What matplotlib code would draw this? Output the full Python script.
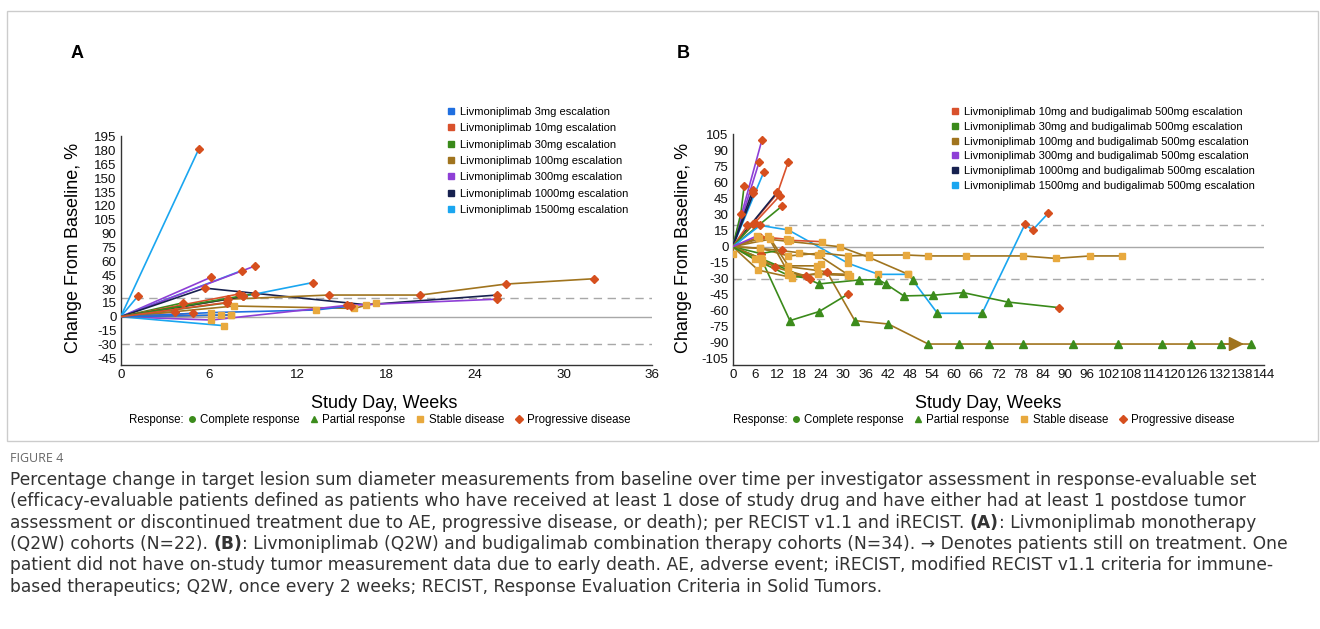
import matplotlib
matplotlib.use('Agg')
import matplotlib.pyplot as plt
from matplotlib.lines import Line2D
from matplotlib.patches import Rectangle

plt.rcParams['font.family'] = ['Liberation Sans', 'DejaVu Sans']
plt.rcParams['axes.unicode_minus'] = False

W, H = 1320, 629

# cohort colours
cohort_colors = {
    '3': '#1f6fe0', '10': '#d9512c', '30': '#3a8a1a', '100': '#a0741e',
    '300': '#8e3fd6', '1000': '#17214f', '1500': '#1aa6f0',
}
# response markers: P progressive, S stable, R partial, C complete
resp_marker = {'P': 'D', 'S': 's', 'R': '^', 'C': 'o'}
resp_color = {'P': '#d64f1e', 'S': '#e8a93e', 'R': '#3c8c1c', 'C': '#3c8c1c'}

# ---- panel A data (monotherapy) ----
a_cohort = ['1500', '1500', '300', '1500', '300', '1000', '1500', '100', '30', '30', '10',
            '10', '100', '3', '300', '1500', '100', '10', '1000', '30', '3', '10']
a_weeks = [[0, 5.3], [0, 1.2], [0, 6.15], [0, 8.2], [0, 9.1], [0, 5.7, 16.6, 25.5],
           [0, 8.3, 13.0], [0, 7.3, 14.1, 20.3, 26.1, 32.1], [0, 4.2], [0, 7.2], [0, 3.7],
           [0, 4.9], [0, 7.7, 15.8, 17.3], [0, 6.15, 13.2, 15.6], [0, 6.15, 15.3, 25.5],
           [0, 7.0], [0, 6.8, 7.5], [0, 8.0], [0, 8.3], [0, 9.1], [0, 7.5], [0, 7.2]]
a_values = [[0, 182], [0, 23], [0, 43], [0, 50], [0, 55], [0, 31, 13, 23.5],
            [0, 22, 37], [0, 19, 23.5, 23.5, 35.4, 41.2], [0, 15], [0, 15], [0, 5.4],
            [0, 3.6], [0, 11.6, 9, 15], [0, 4.5, 7.3, 11.6], [0, -3.6, 12.3, 19],
            [0, -9.7], [0, 1.6, 1.6], [0, 24.6], [0, 22], [0, 25], [0, 2], [0, 15.5]]
a_resp = ['P', 'P', 'P', 'P', 'P', 'PSP', 'PP', 'PPPPP', 'P', 'P', 'P',
          'P', 'SSS', 'SSP', 'SPP', 'S', 'SS', 'P', 'P', 'P', 'S', 'P']

# ---- panel B data (combination) ----
b_cohort = ['300', '300', '1500', '30', '1000', '1000', '10', '1000', '10', '30', '10', '30',
            '1500', '10', '100', '100', '30', '30', '100', '100', '30', '100', '100', '100',
            '100', '30', '100', '300']
b_weeks = [[0, 7.9], [0, 7.2], [0, 8.4], [0, 2.2, 3.1], [0, 5.4], [0, 5.6], [0, 12.1, 15.1],
           [0, 12.0], [0, 12.8], [0, 13.3], [0, 4, 6], [0, 5.5],
           [0, 7.4, 15.1, 31.3, 39.5, 47.6, 55.5, 67.6, 79.2, 81.3, 85.5],
           [0, 7.4, 14.6, 15.5, 24.3],
           [0, 7.4, 15.1, 24, 31.3, 36.9, 46.9, 53, 63.3, 78.8, 87.5, 96.9, 105.5],
           [0, 7.9, 25.5, 33.1, 42.2, 53, 61.2, 69.5, 78.8, 92.3, 104.5, 116.3, 124.2, 132.3, 140.4],
           [0, 7.9, 15.5, 23.4, 31.3],
           [0, 7.6, 15, 23.4, 34.2, 39.5, 41.5, 46.4, 54.4, 62.5, 74.5, 88.5],
           [0, 7, 15, 29, 36.9, 47.6, 49], [0, 0.2], [0, 7.6, 13.3], [0, 7.6, 11.5, 19.9],
           [0, 6.9, 16, 23.2, 31.3], [0, 9.7, 15.1, 22.8, 24], [0, 7.4, 18, 23.2, 31.9],
           [0, 6, 15.1, 21], [0, 10, 15.5, 23.2, 31.3], [0, 6.5]]
b_values = [[0, 100], [0, 80], [0, 70], [0, 31, 57], [0, 53], [0, 50], [0, 50, 80],
            [0, 51], [0, 48], [0, 38], [0, 20, 22], [0, 21],
            [0, 20, 15.7, -15.6, -26, -26, -62.6, -62.6, 21, 15.7, 31.4],
            [0, 9.4, 7, 6, 4.7],
            [0, -1.5, -8.7, -6, -8.7, -8, -7.8, -8.7, -8.7, -8.7, -11, -8.7, -8.7],
            [0, -15.6, -23.5, -69.5, -72.7, -91.5, -91.5, -91.5, -91.5, -91.5, -91.5, -91.5, -91.5,
             -91.5, -91.5],
            [0, -12.5, -69.5, -61, -44.5],
            [0, -11, -22, -35, -31.3, -31, -35, -46.3, -45.6, -43.2, -52, -57.3],
            [0, 8, 5, 0, -10, -26, -31], [0, -7], [0, -6.5, -3], [0, -11, -19.4, -27.5],
            [0, -22, -29, -25, -26], [0, 10, -18, -18, -16], [0, -1.5, -5.6, -8, -27.8],
            [0, -12, -27, -30], [0, 7, -27, -26, -27], [0, 10]]
b_resp = ['P', 'P', 'P', 'PP', 'P', 'P', 'PP', 'P', 'P', 'P', 'PP', 'P',
          'PSSSSRRPPP', 'PSSS', 'SSSSSSSSSSSS', 'SPRRRRRRRRRRRR', 'SRRP', 'SSRRRRRRRRP',
          'SSSSSR', 'S', 'PP', 'SPP', 'SSSS', 'SSSS', 'SSSS', 'SSP', 'SSSS', 'S']
b_arrow = (132.3, 139.3, -91.5)

a_legend = ['Livmoniplimab 3mg escalation', 'Livmoniplimab 10mg escalation',
            'Livmoniplimab 30mg escalation', 'Livmoniplimab 100mg escalation',
            'Livmoniplimab 300mg escalation', 'Livmoniplimab 1000mg escalation',
            'Livmoniplimab 1500mg escalation']
a_legend_keys = ['3', '10', '30', '100', '300', '1000', '1500']
b_legend = ['Livmoniplimab 10mg and budigalimab 500mg escalation',
            'Livmoniplimab 30mg and budigalimab 500mg escalation',
            'Livmoniplimab 100mg and budigalimab 500mg escalation',
            'Livmoniplimab 300mg and budigalimab 500mg escalation',
            'Livmoniplimab 1000mg and budigalimab 500mg escalation',
            'Livmoniplimab 1500mg and budigalimab 500mg escalation']
b_legend_keys = ['10', '30', '100', '300', '1000', '1500']
resp_labels = ['Complete response', 'Partial response', 'Stable disease', 'Progressive disease']
resp_keys = ['C', 'R', 'S', 'P']

caption = [
    [('Percentage change in target lesion sum diameter measurements from baseline over time per investigator assessment in response-evaluable set', False)],
    [('(efficacy-evaluable patients defined as patients who have received at least 1 dose of study drug and have either had at least 1 postdose tumor', False)],
    [('assessment or discontinued treatment due to AE, progressive disease, or death); per RECIST v1.1 and iRECIST. ', False),
     ('(A)', True), (': Livmoniplimab monotherapy', False)],
    [('(Q2W) cohorts (N=22). ', False), ('(B)', True),
     (': Livmoniplimab (Q2W) and budigalimab combination therapy cohorts (N=34). \u2192 Denotes patients still on treatment. One', False)],
    [('patient did not have on-study tumor measurement data due to early death. AE, adverse event; iRECIST, modified RECIST v1.1 criteria for immune-', False)],
    [('based therapeutics; Q2W, once every 2 weeks; RECIST, Response Evaluation Criteria in Solid Tumors.', False)],
]


def fx(px):
    return px / W


def fy(py):
    return 1 - py / H


fig = plt.figure(figsize=(W / 100, H / 100), dpi=100)
bg = fig.add_axes([0, 0, 1, 1], zorder=-1)
bg.set_xlim(0, 1)
bg.set_ylim(0, 1)
bg.axis('off')
bg.add_patch(Rectangle((fx(7), fy(441)), fx(1318) - fx(7), fy(11) - fy(441),
                       fill=False, ec='#cccccc', lw=1))

axA = fig.add_axes([fx(120.7), fy(365), fx(652) - fx(120.7), fy(136.3) - fy(365)])
axB = fig.add_axes([fx(732.7), fy(365), fx(1264) - fx(732.7), fy(133.9) - fy(365)])


def draw(ax, cohorts, weeks, values, resps):
    for c, wk, val, rs in zip(cohorts, weeks, values, resps):
        ax.plot(wk, val, color=cohort_colors[c], lw=1.2, zorder=3, solid_capstyle='round')
        for w, v, r in zip(wk[1:], val[1:], rs):
            ms = 5.2 if r == 'R' else 4.3
            ax.plot(w, v, marker=resp_marker[r], color=resp_color[r], ms=ms, mec=resp_color[r],
                    zorder=4, ls='none')


def style(ax, xmax, ylo, yhi, yticks):
    ax.axhline(0, color='#a8a8a8', lw=1, zorder=1)
    for yy in (20, -30):
        ax.axhline(yy, color='#a8a8a8', lw=1, ls=(0, (6, 4)), zorder=1)
    ax.set_xlim(0, xmax)
    ax.set_ylim(ylo, yhi)
    ax.set_xticks(range(0, xmax + 1, 6))
    ax.set_yticks(yticks)
    ax.tick_params(length=0, labelsize=9.6, pad=3, colors='#111111')
    for s in ('top', 'right'):
        ax.spines[s].set_visible(False)
    for s in ('left', 'bottom'):
        ax.spines[s].set_color('#333333')
        ax.spines[s].set_linewidth(1)


draw(axA, a_cohort, a_weeks, a_values, a_resp)
style(axA, 36, -52.3, 195.5, range(-45, 196, 15))

draw(axB, b_cohort, b_weeks, b_values, b_resp)
axB.annotate('', xy=(b_arrow[1], b_arrow[2]), xytext=(b_arrow[0], b_arrow[2]),
             arrowprops=dict(arrowstyle='-|>,head_length=0.9,head_width=0.45',
                             color=cohort_colors['100'], lw=1.2), zorder=3)
style(axB, 144, -111.2, 106, range(-105, 106, 15))

# panel letters
fig.text(fx(77), fy(53), 'A', fontsize=13, fontweight='bold', ha='center', va='center')
fig.text(fx(683), fy(53), 'B', fontsize=13, fontweight='bold', ha='center', va='center')

# axis titles
for xl, yl in ((73, 384), (684, 988)):
    fig.text(fx(xl), fy(248), 'Change From Baseline, %', rotation=90, fontsize=13,
             ha='center', va='center')
    fig.text(fx(yl), fy(403), 'Study Day, Weeks', fontsize=13, ha='center', va='center')

# cohort legends
hA = [Line2D([], [], ls='none', marker='s', ms=4, color=cohort_colors[k]) for k in a_legend_keys]
fig.legend(hA, a_legend, loc='upper left', bbox_to_anchor=(fx(447), fy(107)), frameon=False,
           fontsize=8, handlelength=0.7, handletextpad=0.5, labelspacing=0.57,
           borderpad=0, borderaxespad=0)
hB = [Line2D([], [], ls='none', marker='s', ms=4, color=cohort_colors[k]) for k in b_legend_keys]
fig.legend(hB, b_legend, loc='upper left', bbox_to_anchor=(fx(951), fy(107)), frameon=False,
           fontsize=8, handlelength=0.7, handletextpad=0.5, labelspacing=0.43,
           borderpad=0, borderaxespad=0)

# response legends
hR = [Line2D([], [], ls='none', marker=resp_marker[k], color=resp_color[k],
             ms=4 if k != 'R' else 4.5) for k in resp_keys]
for x0 in (129, 733):
    fig.text(fx(x0), fy(420), 'Response:', fontsize=8.3, ha='left', va='center')
    fig.legend(hR, resp_labels, loc='center left', bbox_to_anchor=(fx(x0 + 58), fy(420)),
               ncol=4, frameon=False, fontsize=8.3, handlelength=0.8, handletextpad=0.3,
               columnspacing=0.9, borderpad=0, borderaxespad=0)

# caption
bg.text(fx(10), fy(458), 'FIGURE 4', fontsize=9, color='#666666', ha='left', va='center',
        family=['Open Sans', 'DejaVu Sans'])
for i, parts in enumerate(caption):
    yb = fy(485 + 21.3 * i)
    prev = None
    for txt, bold in parts:
        kw = dict(fontsize=12.3, color='#333333', family=['DejaVu Sans'],
                  fontweight='bold' if bold else 'normal', ha='left', va='baseline')
        if prev is None:
            prev = bg.text(fx(10), yb, txt, **kw)
        else:
            prev = bg.annotate(txt, xy=(1, 0), xycoords=prev, xytext=(0, 0),
                               textcoords='offset points', **{**kw, 'va': 'bottom'})

fig.savefig('out.png', dpi=100)
